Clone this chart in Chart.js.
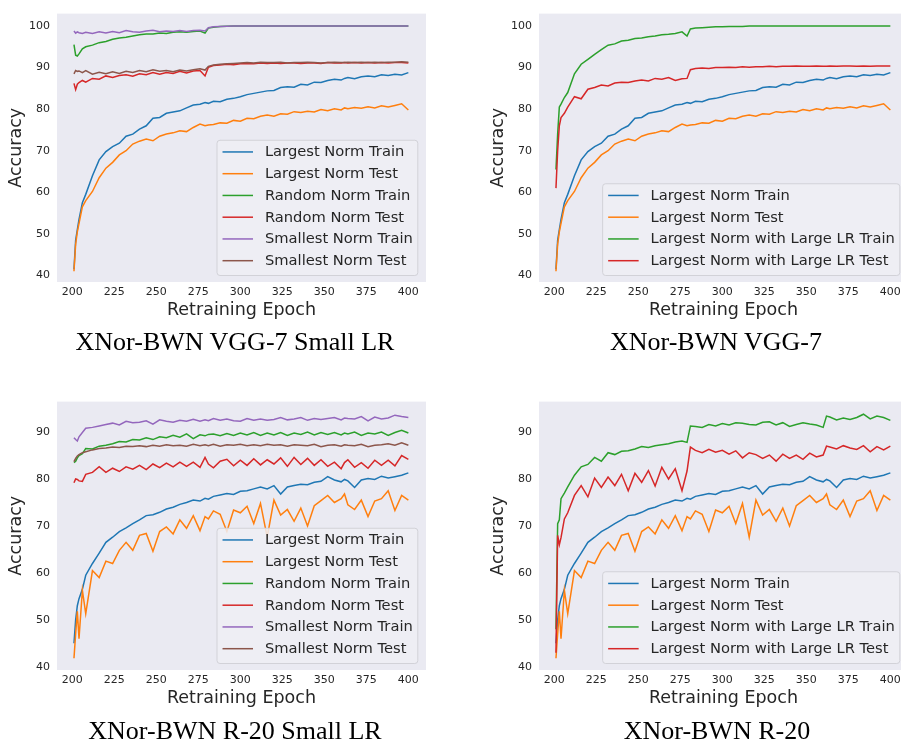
<!DOCTYPE html>
<html>
<head>
<meta charset="utf-8">
<title>Retraining curves</title>
<script src="https://cdn.jsdelivr.net/npm/chart.js@4.4.0/dist/chart.umd.min.js"></script>
<style>
    body { margin: 0; width: 901px; height: 742px; overflow: hidden; background: #fff; position: relative; }
    canvas { position: absolute; }
    .caption { position: absolute; width: 500px; text-align: center; font: 26px/26px "Liberation Serif", "Times New Roman", serif; color: #000; }
</style>
</head>
<body>
<canvas id="c1" width="450" height="330" style="left:0;top:0"></canvas>
<canvas id="c2" width="460" height="330" style="left:450px;top:0"></canvas>
<canvas id="c3" width="450" height="330" style="left:0;top:388px"></canvas>
<canvas id="c4" width="460" height="330" style="left:450px;top:388px"></canvas>
<div class="caption" style="left:-15px;top:329px">XNor-BWN VGG-7 Small LR</div>
<div class="caption" style="left:466px;top:329px">XNor-BWN VGG-7</div>
<div class="caption" style="left:-15px;top:718px">XNor-BWN R-20 Small LR</div>
<div class="caption" style="left:467px;top:718px">XNor-BWN R-20</div>
<script>
// epochs sampled from the curves
var epochs = [201, 202, 203, 204, 206, 208,
    212, 216, 220, 224, 228, 232, 236, 240, 244, 248, 252, 256, 260, 264, 268, 272, 276,
    279, 281,
    284, 288, 292, 296, 300, 304, 308, 312, 316, 320, 324, 328, 332, 336, 340, 344, 348, 352, 356, 360,
    362,
    364, 368, 372, 376, 380, 384, 388, 392, 396, 400];

var xTicks = [200, 225, 250, 275, 300, 325, 350, 375, 400];
var vggTicks = [40, 50, 60, 70, 80, 90, 100];
var r20Ticks = [40, 50, 60, 70, 80, 90];

// VGG-7
var vggLargestTrain = [41.5, 48.5, 51, 53.5, 57.5, 59.5,
    64, 67.8, 69.8, 71, 71.8, 73.5, 74, 75.2, 76, 77.8, 78, 79, 79.3, 79.6, 80.3, 81, 81.2,
    81.6, 81.4,
    81.9, 81.8, 82.4, 82.6, 83, 83.5, 83.8, 84.1, 84.4, 84.5, 85.2, 85.4, 85.3, 86, 85.8, 86.5, 86.4, 86.9, 87.2, 87,
    87.4,
    87.6, 87.3, 87.8, 88, 87.8, 88.3, 88.1, 88.4, 88.2, 88.8];
var vggLargestTest = [41, 47.5, 50.5, 52.5, 56.5, 58,
    60.2, 63.5, 65.8, 67.2, 69, 70, 71.6, 72.3, 72.8, 72.4, 73.5, 74, 74.3, 74.8, 74.6, 75.6, 76.4,
    76, 76.2,
    76.3, 76.7, 76.6, 77.3, 77.1, 77.8, 77.7, 78.3, 78.6, 78.3, 78.9, 78.8, 79.4, 79.2, 79.5, 79.3, 79.9, 79.6, 80.1, 79.8,
    80.3,
    80.1, 80.4, 80.2, 80.6, 80.3, 80.8, 80.5, 80.9, 81.3, 79.8];
var vggRandomTrain = [95.5, 93, 92.8, 93.3, 94.5, 95,
    95.4, 96, 96.3, 96.8, 97.1, 97.3, 97.6, 97.9, 98.1, 98.1, 98.3, 98.2, 98.5, 98.6, 98.5, 98.7, 98.8,
    98.3, 99.5,
    99.7, 99.9, 99.95, 100, 100, 100, 100, 100, 100, 100, 100, 100, 100, 100, 100, 100, 100, 100, 100, 100,
    100,
    100, 100, 100, 100, 100, 100, 100, 100, 100, 100];
var vggRandomTest = [86.2, 84.7, 86, 86.4, 86.9, 86.5,
    87.4, 87.2, 88, 87.6, 88.1, 88.3, 87.9, 88.5, 88.3, 88.8, 88.4, 88.8, 88.6, 89.1, 88.7, 89.2, 89.3,
    88, 90.1,
    90.5, 90.6, 90.8, 90.7, 90.9, 91, 90.9, 91.1, 91, 91.1, 91, 91.1, 91.1, 91, 91.1, 91.1, 91, 91.2, 91.1, 91.1,
    91.2,
    91.1, 91.2, 91.1, 91.2, 91.1, 91.2, 91.1, 91.2, 91.2, 91.1];
var vggSmallestTrain = [98.8, 98.3, 98.6, 98.4, 98.2, 98.5,
    98.2, 98.6, 98.3, 98.7, 98.4, 98.9, 98.6, 98.5, 98.8, 99, 98.6, 98.8, 98.7, 98.9, 98.7, 98.9, 99,
    98.8, 99.6,
    99.8, 99.9, 99.95, 100, 100, 100, 100, 100, 100, 100, 100, 100, 100, 100, 100, 100, 100, 100, 100, 100,
    100,
    100, 100, 100, 100, 100, 100, 100, 100, 100, 100];
var vggSmallestTest = [88.5, 89.3, 89.1, 89.2, 88.8, 89.3,
    88.4, 88.9, 88.5, 89, 88.6, 89.1, 88.8, 89.3, 89, 89.5, 89.1, 89.3, 89, 89.4, 89.2, 89.5, 89.7,
    89.4, 90.3,
    90.6, 90.8, 90.9, 91, 91.1, 91.2, 91.1, 91.3, 91.2, 91.2, 91.3, 91.1, 91.2, 91.2, 91.3, 91.2, 91.1, 91.2, 91.3, 91.2,
    91.2,
    91.3, 91.2, 91.3, 91.2, 91.3, 91.2, 91.3, 91.3, 91.4, 91.3];
var vggLargeLrTrain = [65.5, 74, 80.5, 81.2, 82.8, 84,
    88.5, 90.8, 92, 93.2, 94.3, 95.4, 95.7, 96.4, 96.6, 97, 97.1, 97.4, 97.6, 97.9, 98, 98.2, 98.6,
    97.6, 99.3,
    99.5, 99.6, 99.7, 99.8, 99.8, 99.9, 99.9, 99.9, 100, 100, 100, 100, 100, 100, 100, 100, 100, 100, 100, 100,
    100,
    100, 100, 100, 100, 100, 100, 100, 100, 100, 100];
var vggLargeLrTest = [61, 70, 76, 78, 79, 80.5,
    83, 82.5, 84.8, 85.2, 85.8, 85.6, 86.3, 86.5, 86.4, 86.8, 87, 86.8, 87.4, 87.2, 87.6, 86.9, 87.3,
    87.4, 89.5,
    89.8, 89.9, 89.8, 90, 90, 90.1, 90, 90.2, 90.1, 90.2, 90.2, 90.3, 90.2, 90.3, 90.3, 90.4, 90.3, 90.3, 90.4, 90.3,
    90.3,
    90.4, 90.3, 90.4, 90.4, 90.3, 90.4, 90.3, 90.4, 90.4, 90.4];

// R-20
var r20LargestTrain = [45, 50, 53, 54.5, 56.5, 59.5,
    62, 64.2, 66.5, 67.6, 68.8, 69.6, 70.5, 71.3, 72.2, 72.4, 72.9, 73.6, 74, 74.6, 75, 75.5, 75.3,
    75.9, 75.7,
    76.3, 76.6, 76.9, 76.7, 77.4, 77.5, 77.9, 78.3, 77.9, 78.6, 76.8, 78.3, 78.6, 78.9, 78.8, 79.3, 79.5, 80.5, 79.8, 79.4,
    79.9,
    79.6, 78.2, 79.8, 80.1, 79.9, 80.6, 80.2, 80.5, 80.8, 81.3];
var r20LargestTest = [41.8, 47, 51.8, 46, 56.3, 51.3,
    60.5, 59, 62.5, 62, 64.8, 66.5, 64.8, 68, 68.4, 64.6, 68.8, 69.8, 68.3, 71.3, 69.5, 72.2, 69,
    72, 71.5,
    73.2, 72.5, 68.8, 73.4, 72.8, 74.2, 70.5, 74.8, 67.6, 75.5, 72.3, 73.5, 71, 73.8, 70, 74.3, 75.4, 76.5, 75, 75.8,
    76.8,
    74.5, 73.5, 75.5, 72, 75.3, 75.8, 77.5, 73.3, 76.5, 75.5];
var r20RandomTrain = [83.5, 83.8, 84.5, 85, 85.4, 86.5,
    86.4, 87, 87.2, 87.5, 88, 87.9, 88.4, 88.3, 88.8, 88.4, 89, 88.8, 89.3, 88.9, 89.6, 88.6, 89.4,
    89.2, 89.5,
    89.6, 89.2, 89.7, 89.3, 89.8, 89.4, 89.9, 89.3, 89.8, 89.4, 89.9, 89.3, 89.8, 89.5, 90, 89.4, 89.9, 89.5, 89.9, 89.4,
    89.8,
    89.6, 90, 89.3, 89.8, 89.6, 90, 89.3, 89.9, 90.4, 89.8];
var r20RandomTest = [79.2, 80, 79.9, 79.6, 79.5, 81,
    81.4, 82.6, 81.4, 82.3, 81.6, 82.6, 82.1, 82.9, 82, 83.2, 82.4, 83.4, 82.6, 83.6, 82.7, 83.6, 82.5,
    84.6, 83.2,
    82.4, 83.8, 84.2, 82.8, 84, 82.9, 84.3, 83, 84.1, 83.2, 84.5, 82.7, 84.6, 83.1, 84.4, 82.9, 84.1, 82.7, 83.6, 82.2,
    83.5,
    84.1, 82.5, 83.5, 82.3, 84, 82.9, 84, 82.8, 85, 84.2];
var r20SmallestTrain = [88.8, 88.4, 88.1, 89, 89.9, 90.8,
    91, 91.3, 91.6, 91.9, 91.5, 92.3, 92, 92.1, 92.4, 91.7, 92.6, 92.3, 92.1, 92.5, 92.3, 92.7, 92.3,
    92.6, 92.4,
    92.9, 92.5, 92.8, 92.4, 92.3, 92.9, 92.5, 92.8, 92.5, 92.7, 93.1, 92.6, 92.8, 93.1, 92.5, 92.9, 92.7, 92.9, 93.1, 92.6,
    93,
    92.9, 92.8, 93.3, 92.4, 93.2, 92.8, 93, 93.6, 93.3, 93.1];
var r20SmallestTest = [83.7, 84.4, 84.9, 85.2, 85.6, 85.8,
    86.2, 86.5, 86.6, 86.8, 86.7, 87, 86.9, 87.1, 86.9, 87.2, 87, 87.3, 87.1, 87.2, 87, 87.4, 87.1,
    87.3, 87.1,
    87.4, 87, 87.3, 87.2, 87.4, 87.1, 87.3, 87.1, 87.4, 87.2, 87.3, 87, 87.3, 87.2, 87.1, 87.4, 86.9, 87.2, 87.3, 87,
    87.3,
    87.2, 87.1, 87.4, 86.9, 87.2, 87.3, 87.5, 87.2, 87.7, 87.2];
var r20LargeLrTrain = [48, 70.5, 71.3, 75.8, 77, 78.3,
    80.8, 82.6, 83.1, 84.6, 83.8, 85.6, 85.2, 85.9, 86, 86.4, 86.9, 86.7, 87.1, 87.3, 87.5, 87.9, 88.1,
    87.8, 91.3,
    91.2, 91, 91.6, 91.3, 91.8, 91.5, 92, 91.9, 91.6, 91.5, 92.1, 92.2, 91.5, 92, 91.2, 91.6, 92, 91.7, 91.5, 91,
    93.4,
    93.2, 92.6, 93, 92.7, 93.1, 93.8, 92.8, 93.4, 93.1, 92.5];
var r20LargeLrTest = [43, 68, 66, 67.5, 71.5, 72.8,
    76.5, 78.6, 76.2, 80.2, 78.2, 80.4, 78.6, 81, 77.5, 81.2, 79.3, 81.8, 78.5, 82.5, 80, 82.2, 77.5,
    81.7, 86.8,
    86.1, 85.6, 86.3, 85.7, 86.1, 85.3, 86, 84.5, 85.6, 85.2, 84.4, 85.1, 83.8, 85.3, 84.4, 85.1, 84.2, 85.5, 84.7, 85.1,
    87,
    86.8, 86.4, 87.1, 86.6, 86.3, 87.1, 85.8, 86.9, 86.2, 87];

var colors = {
    blue: "#1f77b4", orange: "#ff7f0e", green: "#2ca02c",
    red: "#d62728", purple: "#9467bd", brown: "#8c564b"
};
var textColor = "#262626";
var sans = "DejaVu Sans";

// grey plot background (seaborn darkgrid look)
var plotBg = {
    id: "plotBg",
    beforeDraw: function (chart) {
        var a = chart.chartArea, ctx = chart.ctx;
        ctx.save();
        ctx.fillStyle = "#eaeaf2";
        ctx.fillRect(a.left, a.top, a.right - a.left, a.bottom - a.top);
        ctx.restore();
    }
};

// legend box in the lower right of the plot
var boxLegend = {
    id: "boxLegend",
    afterDatasetsDraw: function (chart) {
        var ctx = chart.ctx, area = chart.chartArea;
        var sets = chart.data.datasets;
        ctx.save();
        ctx.font = "14.7px " + sans;
        var maxW = 0;
        sets.forEach(function (d) {
            maxW = Math.max(maxW, ctx.measureText(d.label).width);
        });
        var rowH = 21.75;
        var w = 48.4 + maxW + 4.5;
        var h = 12.2 + (sets.length - 1) * rowH + 14.3;
        var right = area.right - 8.7, bottom = area.bottom - 7;
        var left = right - w, top = bottom - h;
        ctx.beginPath();
        ctx.roundRect(left + 0.5, top + 0.5, w, h, 3);
        ctx.fillStyle = "rgba(238,238,244,0.85)";
        ctx.fill();
        ctx.strokeStyle = "#d2d2d8";
        ctx.lineWidth = 1;
        ctx.stroke();
        sets.forEach(function (d, i) {
            var y = top + 12.2 + i * rowH;
            ctx.strokeStyle = d.borderColor;
            ctx.lineWidth = 1.5;
            ctx.beginPath();
            ctx.moveTo(left + 6, y);
            ctx.lineTo(left + 36.5, y);
            ctx.stroke();
            ctx.fillStyle = textColor;
            ctx.textBaseline = "middle";
            ctx.textAlign = "left";
            ctx.fillText(d.label, left + 48.4, y + 0.5);
        });
        ctx.restore();
    }
};

function makeChart(id, series, yTicks, yMin, yMax, padLeft, padTop, padRight) {
    var ctx = document.getElementById(id).getContext("2d");
    return new Chart(ctx, {
        type: "line",
        data: {
            datasets: series.map(function (s, i) {
                return {
                    label: s[0],
                    data: epochs.map(function (e, k) { return { x: e, y: s[1][k] }; }),
                    borderColor: s[2],
                    borderWidth: 1.5,
                    pointRadius: 0,
                    tension: 0,
                    fill: false,
                    order: -i // later series on top, like matplotlib
                };
            })
        },
        options: {
            responsive: false,
            animation: false,
            devicePixelRatio: 1,
            layout: { padding: { left: padLeft, top: padTop, right: padRight, bottom: 8 } },
            plugins: { legend: { display: false }, tooltip: { enabled: false } },
            scales: {
                x: {
                    type: "linear",
                    min: 190.9,
                    max: 410.5,
                    grid: { display: false, drawTicks: false },
                    border: { display: false },
                    afterBuildTicks: function (s) { s.ticks = xTicks.map(function (v) { return { value: v }; }); },
                    afterFit: function (s) { s.height = 40; },
                    ticks: { font: { family: sans, size: 11 }, color: textColor, padding: 4, maxRotation: 0, autoSkip: false },
                    title: {
                        display: true, text: "Retraining Epoch", color: textColor,
                        font: { family: sans, size: 17.5 }, padding: { top: 0, bottom: 1.5 }
                    }
                },
                y: {
                    type: "linear",
                    min: yMin,
                    max: yMax,
                    grid: { display: false, drawTicks: false },
                    border: { display: false },
                    afterBuildTicks: function (s) { s.ticks = yTicks.map(function (v) { return { value: v }; }); },
                    afterFit: function (s) { s.width = 57; },
                    ticks: { font: { family: sans, size: 11 }, color: textColor, padding: 7 },
                    title: {
                        display: true, text: "Accuracy", color: textColor,
                        font: { family: sans, size: 17.5 }, padding: { top: 5.5, bottom: 0 }
                    }
                }
            }
        },
        plugins: [plotBg, boxLegend]
    });
}

makeChart("c1", [
    ["Largest Norm Train", vggLargestTrain, colors.blue],
    ["Largest Norm Test", vggLargestTest, colors.orange],
    ["Random Norm Train", vggRandomTrain, colors.green],
    ["Random Norm Test", vggRandomTest, colors.red],
    ["Smallest Norm Train", vggSmallestTrain, colors.purple],
    ["Smallest Norm Test", vggSmallestTest, colors.brown]
], vggTicks, 38.42, 102.99, 0, 8, 24);

makeChart("c2", [
    ["Largest Norm Train", vggLargestTrain, colors.blue],
    ["Largest Norm Test", vggLargestTest, colors.orange],
    ["Largest Norm with Large LR Train", vggLargeLrTrain, colors.green],
    ["Largest Norm with Large LR Test", vggLargeLrTest, colors.red]
], vggTicks, 38.42, 102.99, 32, 8, 2);

makeChart("c3", [
    ["Largest Norm Train", r20LargestTrain, colors.blue],
    ["Largest Norm Test", r20LargestTest, colors.orange],
    ["Random Norm Train", r20RandomTrain, colors.green],
    ["Random Norm Test", r20RandomTest, colors.red],
    ["Smallest Norm Train", r20SmallestTrain, colors.purple],
    ["Smallest Norm Test", r20SmallestTest, colors.brown]
], r20Ticks, 39.31, 96.49, 0, 9, 24);

makeChart("c4", [
    ["Largest Norm Train", r20LargestTrain, colors.blue],
    ["Largest Norm Test", r20LargestTest, colors.orange],
    ["Largest Norm with Large LR Train", r20LargeLrTrain, colors.green],
    ["Largest Norm with Large LR Test", r20LargeLrTest, colors.red]
], r20Ticks, 39.31, 96.49, 32, 9, 2);
</script>
</body>
</html>
